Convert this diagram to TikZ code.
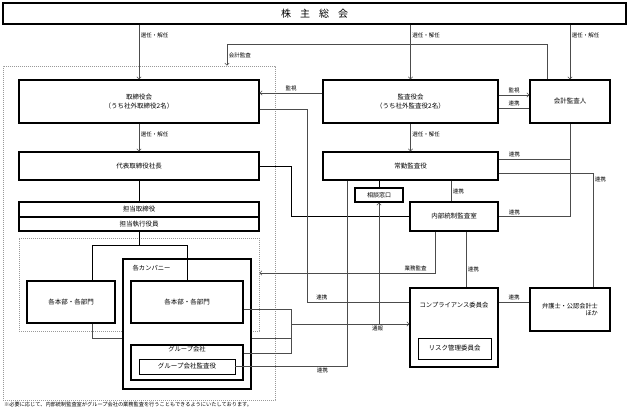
\documentclass[tikz,border=0pt]{standalone}
\usepackage{fontspec}
\setmainfont{Noto Sans CJK JP}
\usetikzlibrary{arrows.meta,positioning,backgrounds}
\tikzset{
	boite/.style={draw=black,fill=white,line width=1.1pt,inner sep=0pt,align=center,font=\fontsize{6.5}{8.5}\selectfont},
	boitefine/.style={boite,line width=0.7pt},
	cadre/.style={draw=black!40,dash pattern=on 1.2pt off 0.8pt,line width=0.7pt,inner sep=0pt},
	lien/.style={draw=black!70,line width=0.55pt},
	trait/.style={draw=black,line width=0.9pt},
	etiq/.style={font=\fontsize{5.5}{6}\selectfont,inner sep=1.5pt},
	texte/.style={font=\fontsize{6.3}{8}\selectfont,inner sep=0pt},
}
\begin{document}
\begin{tikzpicture}[x=1pt,y=-1pt,>={Straight Barb[length=2.2pt,width=4.4pt]}]
	\useasboundingbox (0,0) rectangle (629,411);
% cadres gris
\begin{scope}[on background layer]
	\node[cadre,minimum width=272,minimum height=334] (externe) at (139,233) {};
	\node[cadre,minimum width=240,minimum height=93] (interne) at (139,284.5) {};
\end{scope}
% Assemblee generale
\node[boite,minimum width=623,minimum height=21,font=\fontsize{10}{12}\selectfont] (soukai) at (314.5,13.5) {株\hspace{9pt}主\hspace{9pt}総\hspace{9pt}会};
% Rangee du haut
\node[boite,minimum width=240,minimum height=43] (tori) at (139,101.5) {取締役会\\（うち社外取締役2名）};
\node[boite,minimum width=175,minimum height=43] (kansa) at (410.5,101.5) {監査役会\\（うち社外監査役2名）};
\node[boite,minimum width=80,minimum height=43] (kaikei) at (570,101.5) {会計監査人};
% Execution
\node[boite,minimum width=240,minimum height=28] (daihyo) at (139,166) {代表取締役社長};
\node[boite,minimum width=240,minimum height=15] (tanto1) at (139,209.5) {担当取締役};
\node[boite,minimum width=240,minimum height=14] (tanto2) at (139,224) {担当執行役員};
\node[boite,minimum width=88,minimum height=42] (honbuL) at (71,302) {各本部・各部門};
\node[boite,minimum width=128,minimum height=130] (company) at (187,324) {};
\node[texte,anchor=north west] (companytxt) at ([xshift=10,yshift=-7]company.north west) {各カンパニー};
\node[boite,minimum width=112,minimum height=42] (honbuR) at (187,302) {各本部・各部門};
\node[boite,minimum width=112,minimum height=35] (group) at (187,362.5) {};
\node[texte,anchor=north] (grouptxt) at ([yshift=-1.5]group.north) {グループ会社};
\node[boitefine,minimum width=96,minimum height=15] (groupkansa) at (187,366.5) {グループ会社監査役};
% Audit
\node[boite,minimum width=175,minimum height=28] (joukin) at (410.5,166) {常勤監査役};
\node[boite,minimum width=48,minimum height=14,font=\fontsize{6}{7}\selectfont] (soudan) at (379,195) {相談窓口};
\node[boite,minimum width=88,minimum height=29] (naibu) at (454,216.5) {内部統制監査室};
\node[boite,minimum width=88,minimum height=79] (comp) at (454,327.5) {};
\node[texte] (comptxt) at ([yshift=-18]comp.north) {コンプライアンス委員会};
\node[boitefine,minimum width=73,minimum height=21] (risk) at (454.5,348.5) {リスク管理委員会};
\node[boite,minimum width=80,minimum height=43,align=right,font=\fontsize{6.2}{7}\selectfont] (bengo) at (570,309.5) {弁護士・公認会計士\\ほか};
% Note
\node[anchor=west,inner sep=0pt,font=\fontsize{5.2}{6}\selectfont] (note) at (4,405) {※必要に応じて、内部統制監査室がグループ会社の業務監査を行うこともできるようにいたしております。};
%
% Selection / revocation
\foreach \cible in {tori,kansa,kaikei}
	\draw[lien,->] (\cible.north |- soukai.south) -- node[etiq,right,pos=0.2]{選任・解任} (\cible.north);
\draw[lien,->] (tori.south) -- node[etiq,right,pos=0.4]{選任・解任} (daihyo.north);
\draw[lien,->] (kansa.south) -- node[etiq,right,pos=0.4]{選任・解任} (joukin.north);
% Liaisons hierarchiques
\draw[trait] (daihyo.south) -- (tanto1.north);
\draw[trait] (tanto2.south) -- ++(0,14) coordinate (bras);
\draw[trait] ([xshift=21]honbuL.north) |- (bras) -| (honbuR.north);
\draw[trait] (daihyo.east) -- ++(32,0) |- (naibu.west);
\draw[trait] (soudan.north |- joukin.south) -- (soudan.north);
% Controle
\draw[lien,->] ([xshift=-23]kaikei.north) -- ++(0,-35) -| node[etiq,right,pos=0.75]{会計監査} ([xshift=88]externe.north);
\draw[lien,->] ([yshift=8.5]kansa.west) -- node[etiq,above]{監視} ([yshift=8.5]tori.east);
\draw[lien,->] ([yshift=6.5]kansa.east) -- node[etiq,above]{監視} ([yshift=6.5]kaikei.west);
\draw[lien] ([yshift=-6.5]kansa.east) -- node[etiq,above]{連携} ([yshift=-6.5]kaikei.west);
\draw[lien] ([yshift=-7.5]tori.east) -- ++(48,0) |- node[etiq,above,pos=0.57]{連携} ([yshift=25.5]comp.west);
\draw[lien] ([yshift=7]joukin.east) -| node[etiq,above,pos=0.11]{連携} (kaikei.south);
\draw[lien] (kaikei.south) |- node[etiq,above,pos=0.89]{連携} (naibu.east);
\draw[lien] ([yshift=-7]joukin.east) -| node[etiq,right,pos=0.53]{連携} ([xshift=23]bengo.north);
\draw[lien] ([xshift=40.5]joukin.south) -- node[etiq,right]{連携} ([xshift=-3]naibu.north);
\draw[lien] ([xshift=-63.5]joukin.south) |- node[etiq,below,pos=0.61]{連携} (groupkansa.east);
\draw[lien,->] ([xshift=-19]naibu.south) |- node[etiq,above,pos=0.555]{業務監査} ([yshift=11.5]interne.east);
\draw[lien] ([xshift=12]naibu.south) -- node[etiq,right,pos=0.68]{連携} ([xshift=12]comp.north);
\draw[lien] ([yshift=25.5]comp.east) -- node[etiq,above]{連携} ([yshift=7.5]bengo.west);
% Reseau de signalement
\coordinate (noeud) at ([xshift=48,yshift=-7]honbuR.east);
\coordinate (tsuho) at ([yshift=3.5]comp.west);
\begin{scope}[on background layer]
	\draw[lien] ([xshift=21]honbuL.south) -- ++(0,15) -| (noeud);
\end{scope}
\draw[lien] ([yshift=-7]honbuR.east) -- (noeud) |- ([yshift=9.5]group.east);
\draw[lien,->] (noeud |- tsuho) -- node[etiq,below,pos=0.73]{通報} (tsuho);
\draw[lien,->] (soudan.south |- tsuho) -- (soudan.south);
\end{tikzpicture}
\end{document}
